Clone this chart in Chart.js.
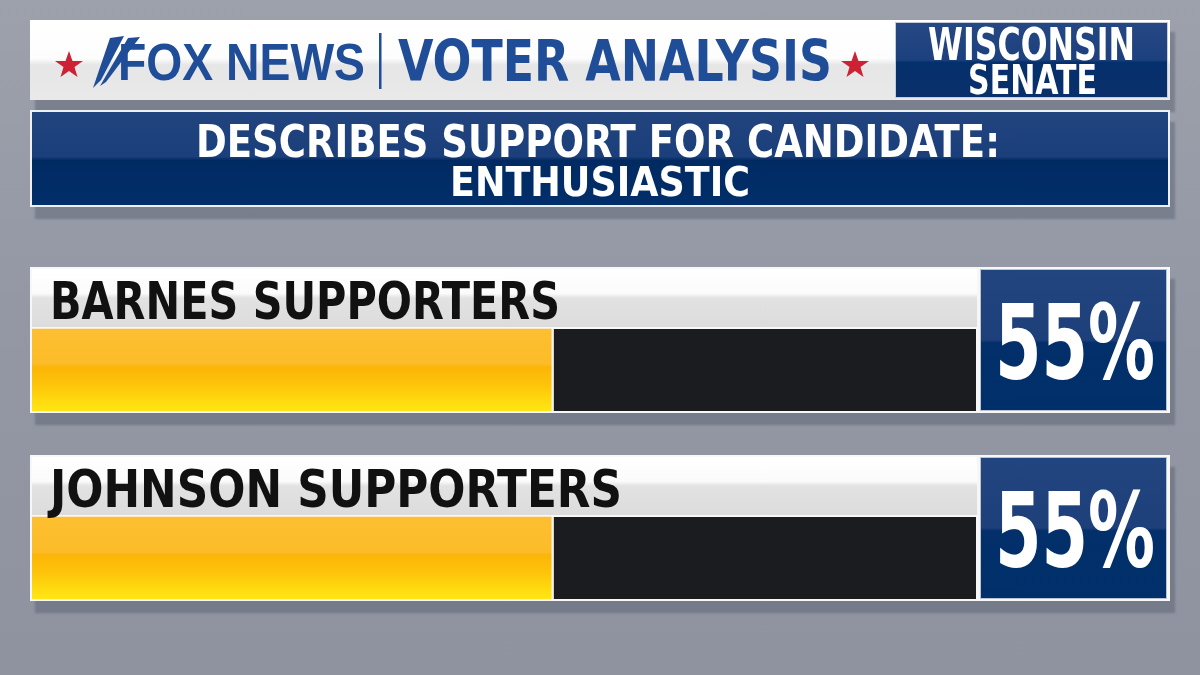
<!DOCTYPE html>
<html>
<head>
<meta charset="utf-8">
<script src="https://cdn.jsdelivr.net/npm/chart.js@4.4.1/dist/chart.umd.min.js"></script>
<style>
html, body { margin: 0; padding: 0; }
body {
    width: 1200px; height: 675px; overflow: hidden; position: relative;
    background: linear-gradient(180deg, #9ca1ac 0%, #9398a4 45%, #8e939f 100%);
    font-family: 'Liberation Sans Narrow', 'DejaVu Sans Condensed', 'Liberation Sans', sans-serif;
}
.panel { position: absolute; left: 30px; width: 1140px; box-shadow: 5px 12px 2px rgba(82, 88, 104, 0.42); z-index: 1; }
.txt { position: absolute; white-space: nowrap; font-weight: bold; transform-origin: 0 0; z-index: 3; }
#chart { position: absolute; left: 0; top: 0; z-index: 2; }
.band { position: absolute; left: 2px; top: 2px; width: 945px; height: 58px;
    background: linear-gradient(180deg, #ffffff 0%, #fbfbfb 42%, #e2e2e2 50%, #dcdcdc 100%); }
.pct { position: absolute; left: 950px; top: 2px; width: 185px; height: 140px; border: 1px solid #b9c3d4;
    background: linear-gradient(180deg, #22447f 0%, #1d3f7a 50%, #032f6a 52%, #00306b 100%); }
</style>
</head>
<body>
<canvas id="chart" width="1200" height="675"></canvas>

<!-- header -->
<div class="panel" style="top:20px;height:80px;background:linear-gradient(180deg,#ffffff 0%,#fdfdfd 48%,#e6e6e6 56%,#e9e9e9 100%);">
    <div style="position:absolute;left:865px;top:2px;width:273px;height:76px;border:1px solid #c4ccda;box-sizing:border-box;
        background:linear-gradient(180deg,#254884 0%,#1d417e 50%,#05306c 53%,#0a306a 100%);"></div>
</div>
<svg style="position:absolute;left:0;top:0;z-index:3" width="1200" height="110">
    <polygon fill="#cc2233" points="69,51 72.5,61 83,61 74.5,67 77.5,77 69,71 60.5,77 63.5,67 55,61 65.5,61"/>
    <polygon fill="#cc2233" points="855,51 858.5,61 869,61 860.5,67 863.5,77 855,71 846.5,77 849.5,67 841,61 851.5,61"/>
    <polygon fill="#1f4d97" points="93,88 110,38 124,36 101,80"/>
    <polygon fill="#1f4d97" points="100,86 128,38 140,37 106,82"/>
    <rect x="379" y="33" width="2.5" height="56" fill="#1f4d97"/>
</svg>
<div class="txt" id="tFox" style="color:#1f4d97;font-family:'Liberation Sans','DejaVu Sans',sans-serif;">FOX NEWS</div>
<div class="txt" id="tVoter" style="color:#1f4d97;">VOTER ANALYSIS</div>
<div class="txt" id="tWis" style="color:#fff;">WISCONSIN</div>
<div class="txt" id="tSen" style="color:#fff;">SENATE</div>

<!-- title -->
<div class="panel" style="top:110px;height:97px;border:2px solid #eef0f4;box-sizing:border-box;
    background:linear-gradient(180deg,#21447f 0%,#1b3f7a 48%,#012a62 52%,#012f6a 100%);"></div>
<div class="txt" id="tTitle1" style="color:#fff;">DESCRIBES SUPPORT FOR CANDIDATE:</div>
<div class="txt" id="tTitle2" style="color:#fff;">ENTHUSIASTIC</div>

<script>
// rows of the graphic
const categories = ['BARNES SUPPORTERS', 'JOHNSON SUPPORTERS'];
const enthusiasticValues = [55, 55];
const restValues = [45, 45];
const labelWidths = [510, 572];
const scaleMin = 0;
const scaleMax = 100;
const BAR_THICKNESS = 82;

// put a text so its capitals sit between capTop and capBot and span width px
function place(el, x, capTop, capBot, width) {
    const f = (capBot - capTop) / 0.729;
    el.style.fontSize = f + 'px';
    el.style.lineHeight = f + 'px';
    el.style.left = x + 'px';
    el.style.top = (capTop - 0.117 * f) + 'px';
    const w = el.getBoundingClientRect().width;
    el.style.transform = 'scaleX(' + (width / w) + ')';
}

place(document.getElementById('tFox'), 118, 42, 80, 247);
place(document.getElementById('tVoter'), 398, 40, 82, 434);
place(document.getElementById('tWis'), 928, 28, 60, 207);
place(document.getElementById('tSen'), 968, 65, 95, 129);
place(document.getElementById('tTitle1'), 196, 125, 157, 804);
place(document.getElementById('tTitle2'), 450, 167, 197, 300);

const chart = new Chart(document.getElementById('chart'), {
    type: 'bar',
    data: {
        labels: categories,
        datasets: [{
            label: 'Enthusiastic',
            data: enthusiasticValues,
            backgroundColor: '#fdbd2a',
            borderWidth: 0,
            barThickness: BAR_THICKNESS,
        }, {
            label: 'Rest',
            data: restValues,
            backgroundColor: '#1b1c20',
            borderColor: '#f2f2f2',
            borderWidth: { left: 3, top: 0, right: 0, bottom: 0 },
            borderSkipped: false,
            barThickness: BAR_THICKNESS,
        }]
    },
    options: {
        indexAxis: 'y',
        responsive: false,
        animation: false,
        devicePixelRatio: 1,
        layout: { padding: { left: 32, right: 224, top: 276, bottom: 23 } },
        plugins: { legend: { display: false }, tooltip: { enabled: false } },
        scales: {
            x: { stacked: true, min: scaleMin, max: scaleMax, display: false },
            y: { stacked: true, display: false }
        }
    }
});

// one gradient over the chart area that repeats the glossy yellow on every bar
const area = chart.chartArea;
const span = area.bottom - area.top;
const gloss = chart.ctx.createLinearGradient(0, area.top, 0, area.bottom);
const glossStops = [[0, '#fdbf31'], [0.43, '#fcbc29'], [0.46, '#fbb508'], [0.66, '#fdc20a'], [0.8, '#fed20d'], [0.92, '#ffdf11'], [1, '#ffe615']];
categories.forEach(function(name, i) {
    const top = chart.scales.y.getPixelForValue(i) - BAR_THICKNESS / 2;
    glossStops.forEach(function(s) {
        const pos = (top + s[0] * BAR_THICKNESS - area.top) / span;
        gloss.addColorStop(Math.min(1, Math.max(0, pos)), s[1]);
    });
});
chart.data.datasets[0].backgroundColor = gloss;
chart.update();

// panels, labels and percentage boxes placed around the library's bars
categories.forEach(function(name, i) {
    const c = chart.scales.y.getPixelForValue(i);
    const panel = document.createElement('div');
    panel.className = 'panel';
    panel.style.top = (c - 103) + 'px';
    panel.style.height = '146px';
    panel.style.background = '#f7f7f7';
    panel.innerHTML = '<div class="band"></div><div class="pct"></div>';
    document.body.appendChild(panel);

    const label = document.createElement('div');
    label.className = 'txt';
    label.style.color = '#111';
    label.textContent = name;
    document.body.appendChild(label);
    place(label, 50, c - 89, c - 51, labelWidths[i]);

    const pct = document.createElement('div');
    pct.className = 'txt';
    pct.style.color = '#fff';
    pct.textContent = enthusiasticValues[i] + '%';
    document.body.appendChild(pct);
    place(pct, 995, c - 65, c + 10, 160);
});
</script>
</body>
</html>
